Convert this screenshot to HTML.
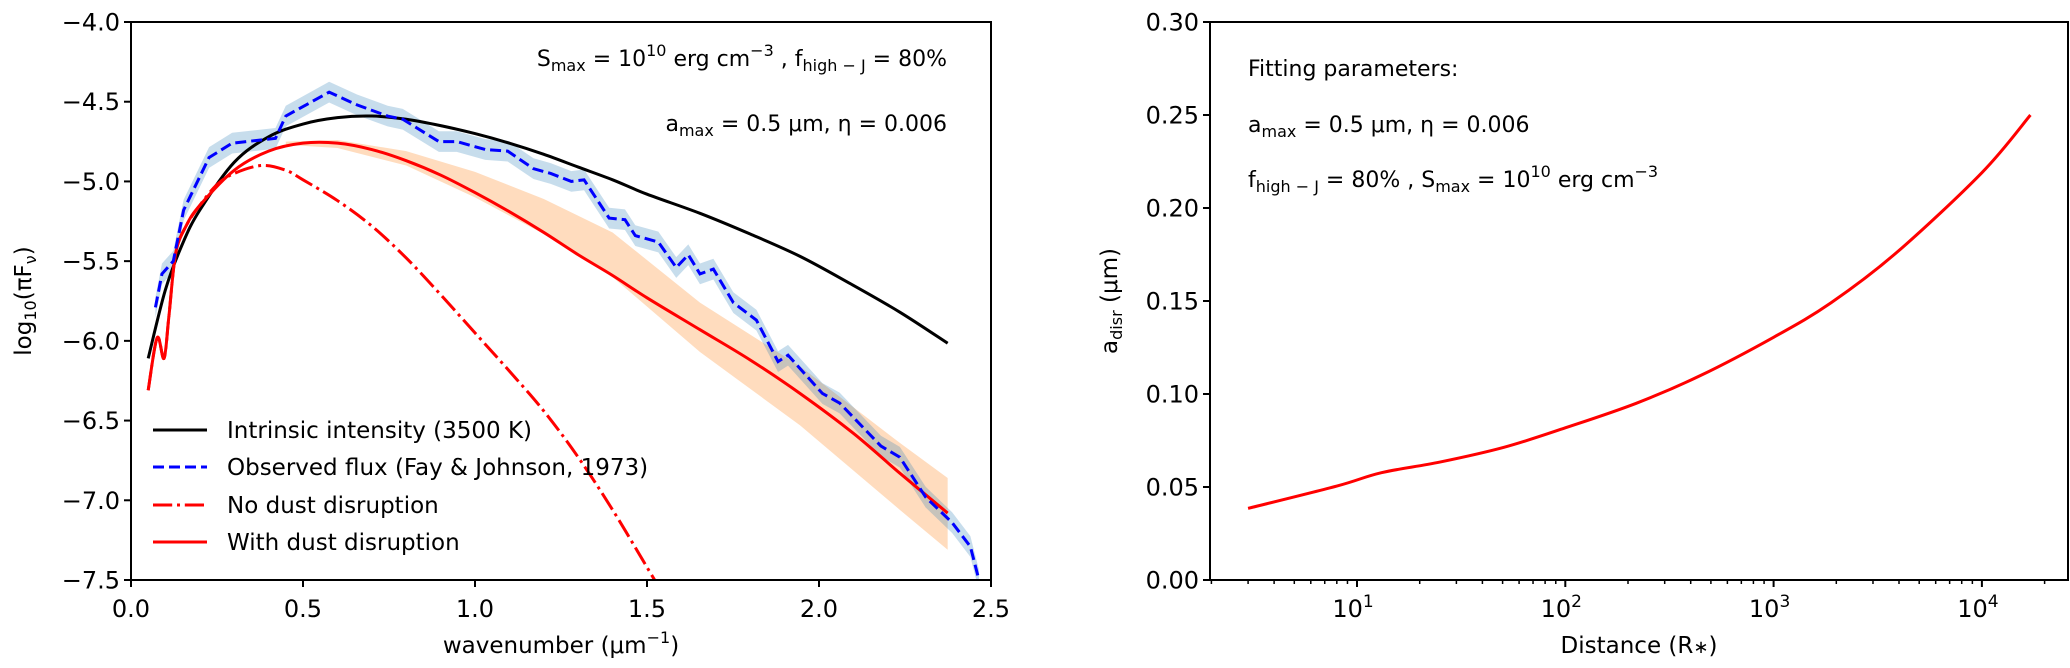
<!DOCTYPE html>
<html><head><meta charset="utf-8">
<style>
html,body{margin:0;padding:0;background:#fff;}
svg{display:block;font-family:"DejaVu Sans","Liberation Sans",sans-serif;}
</style></head>
<body>
<svg id="fig" width="2070" height="668" viewBox="0 0 2070 668" xmlns="http://www.w3.org/2000/svg">
<defs>
<clipPath id="clipL"><rect x="131" y="22" width="860" height="558"/></clipPath>
<clipPath id="clipR"><rect x="1210" y="22" width="858" height="558"/></clipPath>
</defs>
<g id="left"></g>
<g id="right"></g>
</svg>
<script>
// ---------- Left chart data ----------
const intrX = [0.05,0.1,0.15,0.2,0.3,0.4,0.5,0.6,0.7,0.8,0.9,1.0,1.1,1.2,1.3,1.4,1.5,1.654,1.8,1.945,2.09,2.235,2.374];
const intrY = [-6.11,-5.68,-5.39,-5.18,-4.88,-4.72,-4.64,-4.60,-4.59,-4.61,-4.65,-4.70,-4.76,-4.83,-4.91,-4.99,-5.08,-5.20,-5.33,-5.47,-5.64,-5.82,-6.015];
const obsX = [0.071,0.09,0.123,0.153,0.227,0.294,0.42,0.45,0.576,0.657,0.746,0.79,0.895,0.947,1.03,1.095,1.17,1.22,1.28,1.317,1.39,1.436,1.466,1.533,1.585,1.62,1.654,1.693,1.751,1.818,1.881,1.91,2.01,2.06,2.18,2.235,2.31,2.387,2.44,2.465];
const obsY = [-5.79,-5.58,-5.50,-5.18,-4.85,-4.76,-4.73,-4.59,-4.44,-4.52,-4.59,-4.61,-4.75,-4.75,-4.80,-4.81,-4.92,-4.95,-5.00,-4.99,-5.23,-5.24,-5.34,-5.38,-5.54,-5.46,-5.58,-5.55,-5.76,-5.87,-6.13,-6.09,-6.33,-6.39,-6.66,-6.73,-6.98,-7.14,-7.29,-7.5];
const obsErr = 0.065;
const noDustX = [0.05,0.076,0.096,0.11,0.13,0.16,0.2,0.25,0.3,0.38,0.45,0.5,0.6,0.7,0.8,0.9,1.0,1.1,1.2,1.3,1.4,1.5,1.55];
const noDustY = [-6.31,-5.98,-6.11,-5.85,-5.45,-5.28,-5.15,-5.02,-4.95,-4.90,-4.93,-4.99,-5.12,-5.28,-5.48,-5.71,-5.95,-6.19,-6.44,-6.73,-7.06,-7.42,-7.6];
const dustX = [0.05,0.076,0.096,0.11,0.13,0.16,0.2,0.3,0.4,0.5,0.6,0.7,0.8,0.9,1.0,1.1,1.2,1.3,1.4,1.5,1.654,1.8,1.945,2.1,2.235,2.374];
const dustY = [-6.31,-5.98,-6.11,-5.85,-5.45,-5.28,-5.15,-4.93,-4.81,-4.76,-4.76,-4.80,-4.87,-4.96,-5.07,-5.19,-5.32,-5.46,-5.59,-5.73,-5.93,-6.12,-6.33,-6.58,-6.83,-7.08];
const bandX = [0.45,0.6,0.8,1.0,1.2,1.4,1.654,1.945,2.235,2.374];
const bandHi = [-4.75,-4.74,-4.81,-4.94,-5.11,-5.32,-5.76,-6.16,-6.64,-6.86];
const bandLo = [-4.77,-4.79,-4.90,-5.10,-5.33,-5.60,-6.07,-6.53,-7.06,-7.31];
const leftXTicks = [0.0,0.5,1.0,1.5,2.0,2.5];
const leftXLabels = ["0.0","0.5","1.0","1.5","2.0","2.5"];
const leftYTicks = [-4.0,-4.5,-5.0,-5.5,-6.0,-6.5,-7.0,-7.5];
const leftYLabels = ["\u22124.0","\u22124.5","\u22125.0","\u22125.5","\u22126.0","\u22126.5","\u22127.0","\u22127.5"];
// ---------- Right chart data ----------
const distX = [3,8,13.1,25,51,100,219,447,1000,1884,3890,10000,17100];
const adisrY = [0.0385,0.0505,0.0577,0.0634,0.0714,0.0818,0.095,0.110,0.1305,0.149,0.176,0.219,0.250];
const rightYTicks = [0,0.05,0.10,0.15,0.20,0.25,0.30];
const rightYLabels = ["0.00","0.05","0.10","0.15","0.20","0.25","0.30"];
const rightXDecades = [1,2,3,4];

const NS = "http://www.w3.org/2000/svg";
function mk(tag, attrs, parent){const e=document.createElementNS(NS,tag);for(const k in attrs)e.setAttribute(k,attrs[k]);parent.appendChild(e);return e;}
const LX0=131,LX1=991,TOP=22,BOT=580;
const lx = v => LX0 + (v-0)/(2.5-0)*(LX1-LX0);
const ly = v => TOP + (-4.0 - v)/(3.5)*(BOT-TOP);
const RX0=1210,RX1=2068;
const rx = v => 1357 + (Math.log10(v)-1)*208.3;
const ry = v => BOT - v/0.3*(BOT-TOP);
function pathOf(xs,ys,fx,fy){return xs.map((x,i)=>(i?"L":"M")+fx(x).toFixed(2)+","+fy(ys[i]).toFixed(2)).join(" ");}
function smoothOf(xs,ys,fx,fy){
  const P=xs.map((x,i)=>[fx(x),fy(ys[i])]);
  let d="M"+P[0][0].toFixed(2)+","+P[0][1].toFixed(2);
  for(let i=0;i<P.length-1;i++){
    const p0=P[Math.max(0,i-1)],p1=P[i],p2=P[i+1],p3=P[Math.min(P.length-1,i+2)];
    const c1=[p1[0]+(p2[0]-p0[0])/6,p1[1]+(p2[1]-p0[1])/6];
    const c2=[p2[0]-(p3[0]-p1[0])/6,p2[1]-(p3[1]-p1[1])/6];
    d+="C"+c1[0].toFixed(2)+","+c1[1].toFixed(2)+" "+c2[0].toFixed(2)+","+c2[1].toFixed(2)+" "+p2[0].toFixed(2)+","+p2[1].toFixed(2);
  }
  return d;
}
function bandOf(xs,hi,lo,fx,fy){let d=xs.map((x,i)=>(i?"L":"M")+fx(x).toFixed(2)+","+fy(hi[i]).toFixed(2)).join(" ");for(let i=xs.length-1;i>=0;i--)d+="L"+fx(xs[i]).toFixed(2)+","+fy(lo[i]).toFixed(2);return d+"Z";}

const L=document.getElementById('left');
const gL=mk('g',{'clip-path':'url(#clipL)'},L);
let e;
e=mk('path',{d:bandOf(bandX,bandHi,bandLo,lx,ly),fill:'#ff7f0e','fill-opacity':0.27,stroke:'none'},gL);


const obsHi=obsY.map(v=>v+obsErr), obsLo=obsY.map(v=>v-obsErr);
e=mk('path',{d:bandOf(obsX,obsHi,obsLo,lx,ly),fill:'#1f77b4','fill-opacity':0.25,stroke:'none'},gL);


e=mk('path',{d:smoothOf(intrX,intrY,lx,ly),fill:'none',stroke:'#000','stroke-width':3,'stroke-linejoin':'round'},gL);


e=mk('path',{d:smoothOf(noDustX,noDustY,lx,ly),fill:'none',stroke:'#ff0000','stroke-width':3,'stroke-dasharray':'19.2,4.8,3,4.8'},gL);


e=mk('path',{d:smoothOf(dustX,dustY,lx,ly),fill:'none',stroke:'#ff0000','stroke-width':3,'stroke-linejoin':'round'},gL);


e=mk('path',{d:pathOf(obsX,obsY,lx,ly),fill:'none',stroke:'#0000ff','stroke-width':3,'stroke-dasharray':'11,5'},gL);


e=mk('rect',{x:LX0,y:TOP,width:LX1-LX0,height:BOT-TOP,fill:'none',stroke:'#000','stroke-width':2},L);


leftXTicks.forEach((v,i)=>{
  const t=mk('line',{x1:lx(v),x2:lx(v),y1:BOT,y2:BOT+7,stroke:'#000','stroke-width':2},L);
  
  
  const tx=mk('text',{x:lx(v),y:617,'font-size':24,'text-anchor':'middle'},L);tx.textContent=leftXLabels[i];
  
  
});
leftYTicks.forEach((v,i)=>{
  const t=mk('line',{x1:LX0-7,x2:LX0,y1:ly(v),y2:ly(v),stroke:'#000','stroke-width':2},L);
  
  
  const tx=mk('text',{x:LX0-11,y:ly(v)+8.5,'font-size':24,'text-anchor':'end'},L);tx.textContent=leftYLabels[i];
  
  
});
const legend=mk('g',{},L);


const legItems=[["Intrinsic intensity (3500 K)",'#000',''],["Observed flux (Fay & Johnson, 1973)",'#0000ff','11,5'],["No dust disruption",'#ff0000','19.2,4.8,3,4.8'],["With dust disruption",'#ff0000','']];
const legYs=[430,467,505,542];
legItems.forEach((it,i)=>{
  const a={x1:153,x2:207,y1:legYs[i],y2:legYs[i],stroke:it[1],'stroke-width':3};
  if(it[2])a['stroke-dasharray']=it[2];
  const ln=mk('line',a,legend);
  
  
  const tx=mk('text',{x:227,y:legYs[i]+8,'font-size':23},legend);tx.textContent=it[0];
  
  
});

const R=document.getElementById('right');
const gR=mk('g',{'clip-path':'url(#clipR)'},R);
e=mk('path',{d:smoothOf(distX,adisrY,rx,ry),fill:'none',stroke:'#ff0000','stroke-width':3,'stroke-linejoin':'round'},gR);


e=mk('rect',{x:RX0,y:TOP,width:RX1-RX0,height:BOT-TOP,fill:'none',stroke:'#000','stroke-width':2},R);


rightYTicks.forEach((v,i)=>{
  const t=mk('line',{x1:RX0-7,x2:RX0,y1:ry(v),y2:ry(v),stroke:'#000','stroke-width':2},R);
  
  
  const tx=mk('text',{x:RX0-11,y:ry(v)+8.5,'font-size':24,'text-anchor':'end'},R);tx.textContent=rightYLabels[i];
  
  
});
for(let d=0;d<=4;d++){for(let m=1;m<10;m++){
  const v=m*Math.pow(10,d);const X=rx(v);if(X<RX0||X>RX1)continue;
  const t=mk('line',{x1:X,x2:X,y1:BOT,y2:BOT+(m===1?7:4),stroke:'#000','stroke-width':m===1?2:1.5},R);
  
  
}}
rightXDecades.forEach(p=>{
  const tx=mk('text',{x:rx(Math.pow(10,p))-4,y:617,'font-size':24,'text-anchor':'middle'},R);
  
  
  tx.appendChild(document.createTextNode('10'));
  const s=mk('tspan',{dy:-10,'font-size':17},tx);s.textContent=String(p);
});
</script>
<svg style="position:absolute;left:0;top:0" width="2070" height="668" xmlns="http://www.w3.org/2000/svg" font-family="DejaVu Sans, Liberation Sans, sans-serif">
<text x="561" y="653" font-size="23" text-anchor="middle">wavenumber (μm<tspan dy="-10" font-size="16">−1</tspan><tspan dy="10">)</tspan></text>
<text transform="translate(31,301) rotate(-90)" font-size="23" text-anchor="middle">log<tspan dy="5" font-size="16">10</tspan><tspan dy="-5">(πF</tspan><tspan dy="5" font-size="16">ν</tspan><tspan dy="-5">)</tspan></text>
<text x="947" y="66" font-size="22" text-anchor="end">S<tspan dy="5" font-size="16">max</tspan><tspan dy="-5"> = 10</tspan><tspan dy="-10" font-size="16">10</tspan><tspan dy="10"> erg cm</tspan><tspan dy="-10" font-size="16">−3</tspan><tspan dy="10"> ,  f</tspan><tspan dy="5" font-size="16">high − J</tspan><tspan dy="-5"> = 80%</tspan></text>
<text x="947" y="131" font-size="22" text-anchor="end">a<tspan dy="5" font-size="16">max</tspan><tspan dy="-5"> = 0.5 μm,  η = 0.006</tspan></text>
<text x="1248" y="76" font-size="22">Fitting parameters:</text>
<text x="1248" y="132" font-size="22">a<tspan dy="5" font-size="16">max</tspan><tspan dy="-5"> = 0.5 μm, η = 0.006</tspan></text>
<text x="1248" y="187" font-size="22">f<tspan dy="5" font-size="16">high − J</tspan><tspan dy="-5"> = 80% ,  S</tspan><tspan dy="5" font-size="16">max</tspan><tspan dy="-5"> = 10</tspan><tspan dy="-10" font-size="16">10</tspan><tspan dy="10"> erg cm</tspan><tspan dy="-10" font-size="16">−3</tspan></text>
<text x="1639" y="653" font-size="23" text-anchor="middle">Distance (R<tspan font-size="18">∗</tspan>)</text>
<text transform="translate(1117,301) rotate(-90)" font-size="23" text-anchor="middle">a<tspan dy="5" font-size="16">disr</tspan><tspan dy="-5"> (μm)</tspan></text>
</svg>
</body></html>
